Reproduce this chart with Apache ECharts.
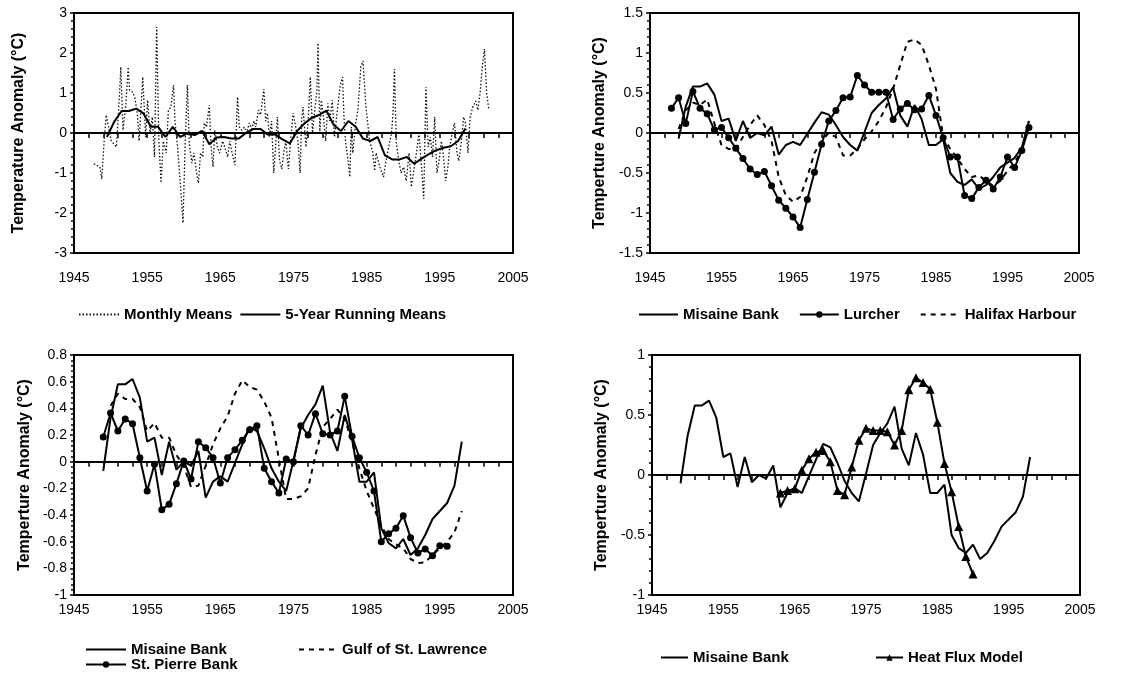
<!DOCTYPE html>
<html>
<head>
<meta charset="utf-8">
<script src="https://cdn.jsdelivr.net/npm/echarts@6/dist/echarts.min.js"></script>
<style>
html,body{margin:0;padding:0;background:#fff;}
#chart{width:1148px;height:675px;}
</style>
</head>
<body>
<div id="chart"></div>
<script>
// ---------- DATA ----------
const xTickYears = [1945, 1955, 1965, 1975, 1985, 1995, 2005];

// Panel 1: monthly means (decimal year, anomaly)
const monthlyYears = [1947.7,1948.55,1948.8,1949.1,1949.4,1950.1,1950.8,1951.2,1951.4,1951.7,1952.1,1952.4,1952.6,1952.97,1953.3,1953.65,1953.9,1954.4,1954.55,1954.8,1955.06,1955.4,1955.7,1956.0,1956.3,1956.6,1956.9,1957.2,1957.6,1957.9,1958.25,1958.6,1958.8,1959.15,1959.6,1959.9,1960.2,1960.5,1960.75,1961.1,1961.4,1961.75,1962.0,1962.3,1962.6,1962.8,1963.1,1963.5,1963.7,1964.0,1964.25,1964.6,1964.9,1965.3,1965.6,1966.0,1966.3,1966.6,1967.0,1967.35,1967.6,1967.9,1968.3,1968.6,1968.95,1969.3,1969.6,1969.85,1970.2,1970.5,1970.95,1971.2,1971.45,1971.7,1972.0,1972.3,1972.6,1972.8,1973.1,1973.4,1973.7,1973.95,1974.3,1974.6,1974.95,1975.3,1975.6,1975.9,1976.1,1976.3,1976.7,1977.0,1977.3,1977.6,1977.9,1978.2,1978.35,1978.6,1978.8,1979.1,1979.4,1979.7,1979.95,1980.3,1980.6,1980.95,1981.4,1981.7,1981.9,1982.1,1982.4,1982.7,1982.9,1983.1,1983.5,1983.8,1984.2,1984.5,1984.9,1985.2,1985.4,1985.8,1986.1,1986.3,1986.8,1987.3,1987.6,1987.9,1988.4,1988.6,1988.8,1989.05,1989.4,1989.7,1990.05,1990.4,1990.8,1991.1,1991.4,1991.8,1992.15,1992.5,1992.8,1993.1,1993.4,1993.7,1994.0,1994.3,1994.6,1994.9,1995.2,1995.45,1995.8,1996.1,1996.35,1996.7,1997.0,1997.35,1997.6,1997.95,1998.25,1998.5,1998.85,1999.15,1999.5,1999.9,2000.2,2000.5,2000.8,2001.1,2001.4,2001.7];
const monthlyValues = [-0.77,-0.85,-1.15,-0.26,0.45,-0.2,-0.35,0.9,1.65,0.07,0.74,1.65,1.07,1.03,0.9,0.5,-0.2,1.4,0.82,-0.1,0.82,0,0.4,-0.6,2.65,-0.2,-1.25,-0.2,-0.5,0.57,0.65,1.2,0.3,-0.35,-1.45,-2.25,-0.2,1.2,-0.25,-0.75,-0.5,-1.0,-1.25,-0.5,-0.6,0.25,0.15,0.7,-0.25,-0.85,0.07,-0.35,-0.5,-0.2,-0.35,-0.6,-0.2,-0.5,-0.8,0.9,0.15,0.07,0.15,0,0.25,0.1,0.3,0.15,0.57,0.45,1.1,0.3,0.5,-0.1,0.3,-1.0,-0.2,0.4,-0.7,-0.9,-0.45,-0.2,-0.9,-0.2,0.5,0.15,-0.2,-1.0,0.3,0.65,-0.35,0.3,1.4,0,0.57,1.07,2.25,0,0.82,0.4,-0.2,0.74,0.3,0.82,-0.1,0.5,1.2,1.4,0.4,-0.2,-0.6,-1.1,0.15,-0.5,0.25,0.57,1.65,1.8,0.65,0.15,-0.2,-0.45,-0.95,-0.5,-0.85,-1.1,-0.75,-0.45,0,0.5,1.6,-0.25,-0.7,-1.0,-0.85,-1.2,-0.5,-1.35,-1.0,-0.5,0,-0.85,-1.65,1.15,-0.35,-0.1,-0.6,0.4,-1.0,-0.7,-0.2,-0.5,-1.2,-0.85,-0.35,0,0.25,-0.5,-0.7,-0.2,0.4,0.25,-0.5,0.4,0.65,0.8,0.57,1.0,1.65,2.1,1.0,0.57];

// Panel 1: 5-year running means (plotted at mid-year)
const runningYears = [1949.5,1950.5,1951.5,1952.5,1953.5,1954.5,1955.5,1956.5,1957.5,1958.5,1959.5,1960.5,1961.5,1962.5,1963.5,1964.5,1965.5,1966.5,1967.5,1968.5,1969.5,1970.5,1971.5,1972.5,1973.5,1974.5,1975.5,1976.5,1977.5,1978.5,1979.5,1980.5,1981.5,1982.5,1983.5,1984.5,1985.5,1986.5,1987.5,1988.5,1989.5,1990.5,1991.5,1992.5,1993.5,1994.5,1995.5,1996.5,1997.5,1998.5];
const runningValues = [-0.1,0.28,0.55,0.55,0.61,0.49,0.155,0.155,-0.1,0.155,-0.1,-0.01,-0.05,0.05,-0.28,-0.11,-0.1,-0.14,-0.14,0,0.1,0.1,-0.04,-0.04,-0.16,-0.26,0.05,0.24,0.38,0.45,0.56,0.2,0.05,0.3,0.155,-0.14,-0.2,-0.1,-0.56,-0.66,-0.66,-0.6,-0.77,-0.64,-0.53,-0.43,-0.37,-0.33,-0.2,0.11];

// Misaine Bank (panels 2, 3, 4)
const misaineYears = [1949,1950,1951,1952,1953,1954,1955,1956,1957,1958,1959,1960,1961,1962,1963,1964,1965,1966,1967,1968,1969,1970,1971,1972,1973,1974,1975,1976,1977,1978,1979,1980,1981,1982,1983,1984,1985,1986,1987,1988,1989,1990,1991,1992,1993,1994,1995,1996,1997,1998];
const misaineValues = [-0.07,0.33,0.58,0.58,0.62,0.48,0.15,0.18,-0.1,0.15,-0.06,0,-0.03,0.08,-0.27,-0.15,-0.11,-0.15,-0.01,0.13,0.26,0.23,0.1,-0.05,-0.15,-0.22,0.01,0.25,0.35,0.43,0.57,0.22,0.08,0.35,0.17,-0.15,-0.15,-0.08,-0.5,-0.61,-0.65,-0.58,-0.7,-0.65,-0.55,-0.43,-0.37,-0.31,-0.18,0.15];

// Panel 2: Lurcher
const lurcherYears = [1948,1949,1950,1951,1952,1953,1954,1955,1956,1957,1958,1959,1960,1961,1962,1963,1964,1965,1966,1967,1968,1969,1970,1971,1972,1973,1974,1975,1976,1977,1978,1979,1980,1981,1982,1983,1984,1985,1986,1987,1988,1989,1990,1991,1992,1993,1994,1995,1996,1997,1998];
const lurcherValues = [0.31,0.44,0.12,0.52,0.31,0.24,0.04,0.07,-0.06,-0.19,-0.32,-0.45,-0.52,-0.48,-0.66,-0.84,-0.94,-1.05,-1.18,-0.83,-0.49,-0.14,0.15,0.28,0.44,0.45,0.72,0.6,0.51,0.51,0.51,0.17,0.3,0.37,0.29,0.3,0.47,0.22,-0.06,-0.3,-0.3,-0.78,-0.82,-0.68,-0.59,-0.7,-0.55,-0.3,-0.43,-0.22,0.07];

// Panel 2: Halifax Harbour
const halifaxYears = [1949,1950,1951,1952,1953,1954,1955,1956,1957,1958,1959,1960,1961,1962,1963,1964,1965,1966,1967,1968,1969,1970,1971,1972,1973,1974,1975,1976,1977,1978,1979,1980,1981,1982,1983,1984,1985,1986,1987,1988,1989,1990,1991,1992,1993,1994,1995,1996,1997,1998];
const halifaxValues = [0.05,0.28,0.38,0.35,0.42,0.12,-0.15,-0.2,-0.2,-0.05,0.1,0.22,0.1,-0.1,-0.55,-0.78,-0.86,-0.8,-0.55,-0.25,-0.1,0.0,-0.05,-0.28,-0.28,-0.2,-0.08,0.02,0.15,0.32,0.55,0.85,1.14,1.17,1.1,0.85,0.55,-0.05,-0.2,-0.32,-0.45,-0.55,-0.53,-0.6,-0.66,-0.6,-0.47,-0.37,-0.22,0.15];

// Panel 3: St. Pierre Bank
const stPierreYears = [1949,1950,1951,1952,1953,1954,1955,1956,1957,1958,1959,1960,1961,1962,1963,1964,1965,1966,1967,1968,1969,1970,1971,1972,1973,1974,1975,1976,1977,1978,1979,1980,1981,1982,1983,1984,1985,1986,1987,1988,1989,1990,1991,1992,1993,1994,1995,1996];
const stPierreValues = [0.185,0.365,0.23,0.32,0.285,0.03,-0.22,-0.02,-0.36,-0.32,-0.165,0.005,-0.13,0.15,0.105,0.03,-0.16,0.03,0.09,0.16,0.24,0.27,-0.05,-0.15,-0.235,0.02,0.0,0.27,0.2,0.36,0.21,0.2,0.23,0.49,0.19,0.03,-0.08,-0.22,-0.6,-0.54,-0.5,-0.405,-0.57,-0.685,-0.655,-0.705,-0.63,-0.635];

// Panel 3: Gulf of St. Lawrence
const gulfYears = [1950,1951,1952,1953,1954,1955,1956,1957,1958,1959,1960,1961,1962,1963,1964,1965,1966,1967,1968,1969,1970,1971,1972,1973,1974,1975,1976,1977,1978,1979,1980,1981,1982,1983,1984,1985,1986,1987,1988,1989,1990,1991,1992,1993,1994,1995,1996,1997,1998];
const gulfValues = [0.42,0.51,0.47,0.47,0.41,0.23,0.29,0.18,0.18,0.05,-0.03,-0.19,-0.18,-0.03,0.13,0.25,0.34,0.51,0.61,0.56,0.54,0.45,0.33,0.02,-0.28,-0.28,-0.26,-0.2,0.05,0.26,0.32,0.39,0.32,0.15,-0.05,-0.22,-0.35,-0.48,-0.58,-0.62,-0.65,-0.73,-0.76,-0.755,-0.7,-0.65,-0.6,-0.53,-0.37];

// Panel 4: Heat Flux Model
const heatFluxYears = [1963,1964,1965,1966,1967,1968,1969,1970,1971,1972,1973,1974,1975,1976,1977,1978,1979,1980,1981,1982,1983,1984,1985,1986,1987,1988,1989,1990];
const heatFluxValues = [-0.15,-0.13,-0.115,0.04,0.135,0.19,0.205,0.11,-0.13,-0.165,0.067,0.29,0.39,0.37,0.37,0.36,0.25,0.37,0.71,0.81,0.77,0.715,0.44,0.095,-0.14,-0.43,-0.68,-0.825];

// Y axis settings per panel
const yRanges = [
  {min: -3, max: 3, interval: 1},
  {min: -1.5, max: 1.5, interval: 0.5},
  {min: -1, max: 0.8, interval: 0.2},
  {min: -1, max: 1, interval: 0.5}
];
const yTitles = ['Temperature Anomaly (°C)', 'Temperture Anomaly (°C)', 'Temperture Anomaly (°C)', 'Temperture Anomaly (°C)'];

// ---------- CHART ----------
const FONT = 'Arial, "Liberation Sans", sans-serif';
const zip = (xs, ys) => xs.map((x, i) => [x, ys[i]]);

const grids = [
  {left: 74, top: 13, width: 439, height: 240},
  {left: 650, top: 13, width: 429, height: 240},
  {left: 74, top: 355, width: 439, height: 240},
  {left: 652, top: 355, width: 428, height: 240}
].map(g => Object.assign(g, {show: true, borderColor: '#000', borderWidth: 2, backgroundColor: 'transparent'}));

const nameGaps = [47, 42, 41, 42];
const xLabelMargins = [18, 18, 8, 8];

const xAxes = grids.map((g, i) => ({
  type: 'value', gridIndex: i, min: xTickYears[0], max: xTickYears[xTickYears.length - 1], interval: 10,
  axisLine: {show: true, lineStyle: {color: '#000', width: 2}},
  axisTick: {show: true, inside: false, length: 5, lineStyle: {color: '#000', width: 1.5}},
  minorTick: {show: true, splitNumber: 5, length: 5, lineStyle: {color: '#000', width: 1.5}},
  splitLine: {show: false},
  axisLabel: {color: '#000', fontSize: 14, fontFamily: FONT, margin: xLabelMargins[i], formatter: v => String(v)}
}));

const yAxes = grids.map((g, i) => ({
  type: 'value', gridIndex: i, min: yRanges[i].min, max: yRanges[i].max, interval: yRanges[i].interval,
  name: yTitles[i], nameLocation: 'middle', nameRotate: 90, nameGap: nameGaps[i],
  nameTextStyle: {color: '#000', fontSize: 16, fontWeight: 'bold', fontFamily: FONT},
  axisLine: {show: true, lineStyle: {color: '#000', width: 2}},
  axisTick: {show: true, inside: false, length: 4, lineStyle: {color: '#000', width: 1.5}},
  minorTick: {show: true, splitNumber: 5, length: 3, lineStyle: {color: '#000', width: 1.5}},
  splitLine: {show: false},
  axisLabel: {color: '#000', fontSize: 14, fontFamily: FONT, margin: 7}
}));

function zeroLine(fromYear) {
  return {
    silent: true, symbol: 'none', animation: false,
    label: {show: false},
    lineStyle: {color: '#000', width: 2, type: 'solid'},
    data: [[{coord: [fromYear, 0]}, {coord: [2005, 0]}]]
  };
}

const solid = {color: '#000', width: 2, type: 'solid'};
const base = {type: 'line', animation: false, z: 3};

const series = [
  // Panel 1
  Object.assign({}, base, {name: 'Monthly Means', xAxisIndex: 0, yAxisIndex: 0, data: zip(monthlyYears, monthlyValues),
    symbol: 'none', lineStyle: {color: '#111', width: 1.3, type: [1.5, 2]}, itemStyle: {color: '#000'},
    markLine: zeroLine(1945)}),
  Object.assign({}, base, {name: '5-Year Running Means', xAxisIndex: 0, yAxisIndex: 0, data: zip(runningYears, runningValues),
    symbol: 'none', lineStyle: solid, itemStyle: {color: '#000'}, z: 4}),
  // Panel 2
  Object.assign({}, base, {name: 'Misaine Bank', xAxisIndex: 1, yAxisIndex: 1, data: zip(misaineYears, misaineValues),
    symbol: 'none', lineStyle: solid, itemStyle: {color: '#000'}, markLine: zeroLine(1947)}),
  Object.assign({}, base, {name: 'Lurcher', xAxisIndex: 1, yAxisIndex: 1, data: zip(lurcherYears, lurcherValues),
    symbol: 'circle', symbolSize: 7, lineStyle: solid, itemStyle: {color: '#000'}}),
  Object.assign({}, base, {name: 'Halifax Harbour', xAxisIndex: 1, yAxisIndex: 1, data: zip(halifaxYears, halifaxValues),
    symbol: 'none', lineStyle: {color: '#000', width: 2, type: [5, 5]}, itemStyle: {color: '#000'}}),
  // Panel 3
  Object.assign({}, base, {name: 'Misaine Bank', xAxisIndex: 2, yAxisIndex: 2, data: zip(misaineYears, misaineValues),
    symbol: 'none', lineStyle: solid, itemStyle: {color: '#000'}, markLine: zeroLine(1947)}),
  Object.assign({}, base, {name: 'St. Pierre Bank', xAxisIndex: 2, yAxisIndex: 2, data: zip(stPierreYears, stPierreValues),
    symbol: 'circle', symbolSize: 7, lineStyle: solid, itemStyle: {color: '#000'}}),
  Object.assign({}, base, {name: 'Gulf of St. Lawrence', xAxisIndex: 2, yAxisIndex: 2, data: zip(gulfYears, gulfValues),
    symbol: 'none', lineStyle: {color: '#000', width: 2, type: [5, 5]}, itemStyle: {color: '#000'}}),
  // Panel 4
  Object.assign({}, base, {name: 'Misaine Bank', xAxisIndex: 3, yAxisIndex: 3, data: zip(misaineYears, misaineValues),
    symbol: 'none', lineStyle: solid, itemStyle: {color: '#000'}, markLine: zeroLine(1947)}),
  Object.assign({}, base, {name: 'Heat Flux Model', xAxisIndex: 3, yAxisIndex: 3, data: zip(heatFluxYears, heatFluxValues),
    symbol: 'triangle', symbolSize: 9, lineStyle: solid, itemStyle: {color: '#000'}})
];

// series drawn without markers get a marker-free legend icon
const noMarker = name => ({name: name, itemStyle: {opacity: 0}});

const legendText = {color: '#000', fontSize: 15, fontWeight: 'bold', fontFamily: FONT};
function legend(left, top, names, extra) {
  return Object.assign({left: left, top: top, data: names, selectedMode: false, itemWidth: 40, itemHeight: 8,
    itemGap: 7, padding: 0, textStyle: legendText}, extra || {});
}

const option = {
  backgroundColor: '#fff',
  animation: false,
  grid: grids,
  xAxis: xAxes,
  yAxis: yAxes,
  legend: [
    legend(78, 307, [noMarker('Monthly Means'), noMarker('5-Year Running Means')], {itemWidth: 40, itemGap: 7}),
    legend(638, 307, [noMarker('Misaine Bank'), 'Lurcher', noMarker('Halifax Harbour')], {itemWidth: 39, itemGap: 20}),
    legend(85, 642, [noMarker('Misaine Bank')]),
    legend(85, 657, ['St. Pierre Bank']),
    legend(298, 642, [noMarker('Gulf of St. Lawrence')], {itemWidth: 38}),
    legend(660, 650, [noMarker('Misaine Bank')], {itemWidth: 27}),
    legend(875, 650, ['Heat Flux Model'], {itemWidth: 27})
  ],
  series: series
};

const chart = echarts.init(document.getElementById('chart'), null, {renderer: 'canvas'});
chart.setOption(option);
</script>
</body>
</html>
